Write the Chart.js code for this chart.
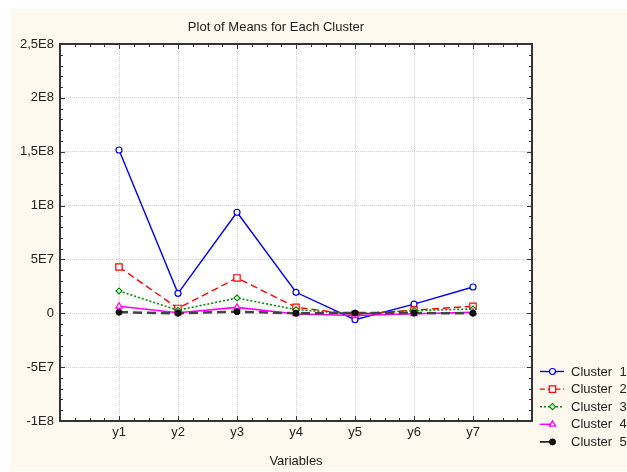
<!DOCTYPE html>
<html><head><meta charset="utf-8">
<script src="https://cdn.jsdelivr.net/npm/chart.js@4/dist/chart.umd.min.js"></script>
<style>html,body{margin:0;padding:0;background:#fff;}#wrap{width:627px;height:472px;position:relative;}</style>
</head><body><div id="wrap"><canvas id="c" width="627" height="472"></canvas></div>
<script>
const categories = ['y1','y2','y3','y4','y5','y6','y7'];
const cluster1 = [1.516e8, 1.85e7, 9.38e7, 1.95e7, -5.9e6, 8.5e6, 2.44e7];
const cluster2 = [4.3e7, 4.5e6, 3.28e7, 5.5e6, -1.2e6, 3.0e6, 6.5e6];
const cluster3 = [2.07e7, 2.8e6, 1.42e7, 3.4e6, -0.5e6, 2.5e6, 4.0e6];
const cluster4 = [6.5e6, 0.5e6, 5.5e6, -0.6e6, -2.0e6, -0.5e6, 0.8e6];
const cluster5 = [1.0e6, 0, 1.5e6, 0, 0.3e6, 0.2e6, 0];
const seriesNames = ['Cluster  1','Cluster  2','Cluster  3','Cluster  4','Cluster  5'];
const yTickValues = [-1e8, -5e7, 0, 5e7, 1e8, 1.5e8, 2e8, 2.5e8];
const yTickLabels = ['-1E8','-5E7','0','5E7','1E8','1,5E8','2E8','2,5E8'];
const chartTitle = 'Plot of Means for Each Cluster';
const xTitle = 'Variables';

const FONT = 'Liberation Sans, Arial, sans-serif';
const TXT = '#222';
const toPts = arr => arr.map((v, i) => ({x: i + 1, y: v}));

const datasets = [
  {label: seriesNames[0], data: toPts(cluster1), borderColor:'#0000FF', backgroundColor:'#FFFFFF', borderWidth:1.4, borderDash:[], pointStyle:'circle', pointRadius:3, pointBorderWidth:1.2, order:5, legendShort:false},
  {label: seriesNames[1], data: toPts(cluster2), borderColor:'#FF0000', backgroundColor:'#FFFFFF', borderWidth:1.4, borderDash:[7,4], pointStyle:'rect', pointRadius:4.5, pointBorderWidth:1.2, order:4, legendShort:false},
  {label: seriesNames[2], data: toPts(cluster3), borderColor:'#008C00', backgroundColor:'#FFFFFF', borderWidth:1.6, borderDash:[2,2], pointStyle:'rectRot', pointRadius:3, pointBorderWidth:1.2, order:3, legendShort:false},
  {label: seriesNames[3], data: toPts(cluster4), borderColor:'#FF00FF', backgroundColor:'#FFFFFF', borderWidth:1.6, borderDash:[], pointStyle:'triangle', pointRadius:3.5, pointBorderWidth:1.3, order:2, legendShort:true},
  {label: seriesNames[4], data: toPts(cluster5), borderColor:'#444444', pointBorderColor:'#000000', backgroundColor:'#111111', pointBackgroundColor:'#111111', borderWidth:2.5, borderDash:[9,5], pointStyle:'circle', pointRadius:3, pointBorderWidth:1, order:1, legendShort:true}
];

const bgPlugin = {
  id: 'bg',
  beforeDraw(chart) {
    const ctx = chart.ctx;
    ctx.save();
    ctx.fillStyle = '#FFFFFF';
    ctx.fillRect(0, 0, chart.width, chart.height);
    ctx.fillStyle = '#FEF9EE';
    ctx.fillRect(11, 9, chart.width - 11, chart.height - 10);
    const a = chart.chartArea;
    ctx.fillStyle = '#FFFFFF';
    ctx.fillRect(a.left, a.top, a.right - a.left, a.bottom - a.top);
    ctx.restore();
  }
};

const framePlugin = {
  id: 'frame',
  afterDraw(chart) {
    const ctx = chart.ctx, a = chart.chartArea;
    const xs = chart.scales.x, ys = chart.scales.y;
    ctx.save();
    ctx.strokeStyle = '#333';
    ctx.lineWidth = 1;
    ctx.beginPath();
    for (let v = xs.min; v <= xs.max + 1e-9; v += 0.25) {
      const px = Math.round(xs.getPixelForValue(v)) + 0.5;
      const len = Math.abs(v - Math.round(v)) < 1e-9 ? 5 : 3;
      ctx.moveTo(px, a.top); ctx.lineTo(px, a.top + len);
      ctx.moveTo(px, a.bottom); ctx.lineTo(px, a.bottom - len);
    }
    for (let v = ys.min; v <= ys.max + 1; v += 1e7) {
      const py = Math.round(ys.getPixelForValue(v)) + 0.5;
      const len = Math.abs(v / 5e7 - Math.round(v / 5e7)) < 1e-6 ? 5 : 3;
      ctx.moveTo(a.left, py); ctx.lineTo(a.left + len, py);
      ctx.moveTo(a.right, py); ctx.lineTo(a.right - len, py);
    }
    ctx.stroke();
    ctx.lineWidth = 2;
    ctx.strokeRect(a.left, a.top, a.right - a.left, a.bottom - a.top);

    // title
    ctx.fillStyle = TXT;
    ctx.font = '13px ' + FONT;
    ctx.textAlign = 'center';
    ctx.textBaseline = 'middle';
    ctx.fillText(chartTitle, 276, 27);

    // legend
    const H = Chart.helpers;
    chart.data.datasets.forEach((ds, i) => {
      const y = 371.5 + i * 17.6;
      const x0 = 540, x1 = ds.legendShort ? 553 : 564, mx = 552.5;
      ctx.save();
      ctx.strokeStyle = ds.legendShort ? (ds.pointBorderColor || ds.borderColor) : ds.borderColor;
      ctx.lineWidth = Math.min(ds.borderWidth, 1.5);
      ctx.setLineDash(!ds.legendShort && ds.borderDash.length ? ds.borderDash.map(d => Math.max(2, d * 0.7)) : []);
      ctx.beginPath(); ctx.moveTo(x0, y); ctx.lineTo(x1, y); ctx.stroke();
      ctx.setLineDash([]);
      ctx.strokeStyle = ds.pointBorderColor || ds.borderColor;
      ctx.fillStyle = ds.pointBackgroundColor || ds.backgroundColor;
      ctx.lineWidth = ds.pointBorderWidth;
      H.drawPoint(ctx, {pointStyle: ds.pointStyle, radius: ds.pointRadius, rotation: 0, borderWidth: ds.pointBorderWidth}, mx, y);
      ctx.restore();
      ctx.fillStyle = TXT;
      ctx.font = '13px ' + FONT;
      ctx.textAlign = 'left';
      ctx.textBaseline = 'middle';
      ctx.fillText(ds.label, 571, y + 0.5);
    });
    ctx.restore();
  }
};

new Chart(document.getElementById('c'), {
  type: 'line',
  data: {datasets},
  options: {
    responsive: false,
    animation: false,
    events: [],
    devicePixelRatio: 1,
    layout: {padding: {left: 0, top: 44, right: 95, bottom: 0}},
    plugins: {legend: {display: false}, tooltip: {enabled: false}, title: {display: false}},
    elements: {line: {tension: 0, fill: false}},
    scales: {
      x: {
        type: 'linear', min: 0, max: 8,
        afterBuildTicks: s => { s.ticks = categories.map((c, i) => ({value: i + 1})); },
        afterFit: s => { s.height = 51; },
        ticks: {callback: v => categories[Math.round(v) - 1], font: {family: FONT, size: 13}, color: TXT, padding: 4, autoSkip: false, maxRotation: 0},
        grid: {color: '#D2D2D2', lineWidth: 1, drawTicks: false},
        border: {display: false, dash: [1, 1]},
        title: {display: true, text: xTitle, font: {family: FONT, size: 13}, color: TXT, padding: {top: 0, bottom: 3}}
      },
      y: {
        type: 'linear', min: -1e8, max: 2.5e8,
        afterBuildTicks: s => { s.ticks = yTickValues.map(v => ({value: v})); },
        afterFit: s => { s.width = 60; },
        ticks: {callback: v => yTickLabels[yTickValues.indexOf(v)], font: {family: FONT, size: 13}, color: TXT, padding: 6, autoSkip: false},
        grid: {color: '#D2D2D2', lineWidth: 1, drawTicks: false},
        border: {display: false, dash: [1, 1]}
      }
    }
  },
  plugins: [bgPlugin, framePlugin]
});
</script></body></html>
